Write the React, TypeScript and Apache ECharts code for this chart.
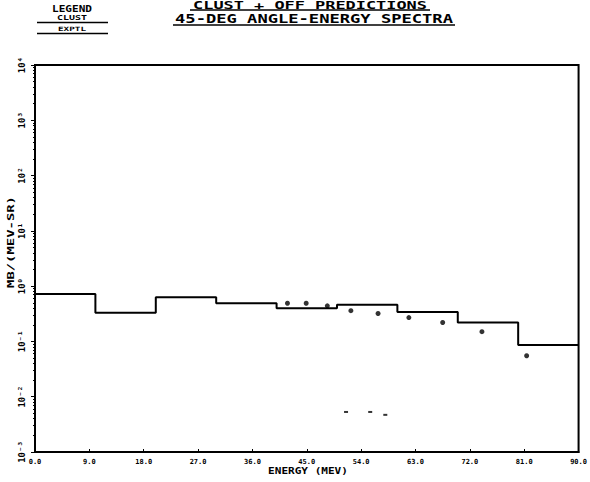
import React, { useEffect, useRef } from "react";
import * as echarts from "echarts";

// Data
const binEdges = [0, 10, 20, 30, 40, 50, 60, 70, 80, 90];
const clustValues = [0.72, 0.33, 0.63, 0.49, 0.4, 0.46, 0.34, 0.22, 0.086];
const exptEnergy = [41.8, 44.9, 48.4, 52.3, 56.8, 61.9, 67.5, 74.0, 81.4];
const exptValues = [0.49, 0.49, 0.44, 0.36, 0.32, 0.27, 0.22, 0.15, 0.055];
const lowEnergy = [51.5, 55.5, 58.0];
const lowValues = [0.0053, 0.0053, 0.0047];
const titleLines = ["CLUST + OFF PREDICTIONS", "45-DEG ANGLE-ENERGY SPECTRA"];
const legendLabels = ["LEGEND", "CLUST", "EXPTL"];
const xAxisName = "ENERGY (MEV)";
const yAxisName = "MB/(MEV-SR)";

const SUP: Record<string, string> = {
  "-": "⁻", "0": "⁰", "1": "¹", "2": "²", "3": "³", "4": "⁴",
  "5": "⁵", "6": "⁶", "7": "⁷", "8": "⁸", "9": "⁹",
};
const sup = (n: number) => String(n).split("").map((c) => SUP[c] ?? c).join("");

const FONT = "'DejaVu Sans Mono', monospace";

export default function App() {
  const ref = useRef<HTMLDivElement>(null);
  useEffect(() => {
    document.body.style.margin = "0";
    const chart = echarts.init(ref.current!, undefined, { renderer: "svg" });
    const histData: [number, number][] = clustValues.map((v, i) => [binEdges[i], v]);
    histData.push([binEdges[binEdges.length - 1], clustValues[clustValues.length - 1]]);
    const exptData = exptEnergy.map((e, i) => [e, exptValues[i]]);
    const lowData = lowEnergy.map((e, i) => [e, lowValues[i]]);

    const stretchedText = (
      text: string, cx: number, y: number, width: number, size: number, rotation = 0,
      vAlign = "top"
    ) => {
      const adv = 0.602 * size * text.length;
      const sx = width / adv;
      return {
        type: "text",
        x: cx,
        y,
        scaleX: sx,
        rotation,
        style: {
          text,
          font: `bold ${size}px ${FONT}`,
          fill: "#000",
          align: "center",
          verticalAlign: vAlign,
        },
        silent: true,
      };
    };

    chart.setOption({
      animation: false,
      backgroundColor: "#fff",
      grid: {
        left: 35,
        right: 10,
        top: 65,
        bottom: 30,
        show: true,
        borderColor: "#000",
        borderWidth: 2,
        backgroundColor: "transparent",
      },
      xAxis: {
        type: "value",
        min: 0,
        max: 90,
        interval: 9,
        axisLine: { show: true, lineStyle: { color: "#000", width: 2 } },
        axisTick: { show: true, inside: true, length: 3, lineStyle: { color: "#000" } },
        splitLine: { show: false },
        axisLabel: {
          formatter: (v: number) => v.toFixed(1),
          fontFamily: FONT,
          fontSize: 7,
          fontWeight: "bold",
          color: "#000",
          margin: 6,
          showMinLabel: true,
          showMaxLabel: true,
        },
      },
      yAxis: {
        type: "log",
        logBase: 10,
        min: 0.001,
        max: 10000,
        axisLine: { show: true, lineStyle: { color: "#000", width: 2 } },
        axisTick: { show: true, length: 4, lineStyle: { color: "#000" } },
        minorTick: { show: true, splitNumber: 9, length: 2, lineStyle: { color: "#000" } },
        splitLine: { show: false },
        axisLabel: {
          rotate: 90,
          formatter: (v: number) => "10" + sup(Math.round(Math.log10(v))),
          fontFamily: FONT,
          fontSize: 9,
          fontWeight: "bold",
          color: "#000",
          margin: 9,
        },
      },
      series: [
        {
          name: "CLUST",
          type: "line",
          step: "end",
          data: histData,
          showSymbol: false,
          symbol: "none",
          lineStyle: { color: "#000", width: 2 },
        },
        {
          name: "EXPTL",
          type: "scatter",
          data: exptData,
          symbol: "circle",
          symbolSize: 5,
          itemStyle: { color: "#000" },
        },
        {
          name: "LOW",
          type: "scatter",
          data: lowData,
          symbol: "rect",
          symbolSize: [4, 2],
          itemStyle: { color: "#000" },
        },
      ],
      graphic: [
        stretchedText(titleLines[0], 310, 0, 234, 11),
        { type: "line", shape: { x1: 190, y1: 10, x2: 430, y2: 10 }, style: { stroke: "#000", lineWidth: 1.5 } },
        stretchedText(titleLines[1], 314, 13, 278, 12),
        { type: "line", shape: { x1: 173, y1: 25, x2: 455, y2: 25 }, style: { stroke: "#000", lineWidth: 1.5 } },
        stretchedText(legendLabels[0], 72, 5, 40, 8),
        stretchedText(legendLabels[1], 72, 14, 30, 7),
        { type: "line", shape: { x1: 37, y1: 22.5, x2: 108, y2: 22.5 }, style: { stroke: "#000", lineWidth: 1.5 } },
        stretchedText(legendLabels[2], 72, 26, 28, 6),
        { type: "line", shape: { x1: 37, y1: 33.5, x2: 108, y2: 33.5 }, style: { stroke: "#000", lineWidth: 1.5 } },
        stretchedText(xAxisName, 308, 467, 80, 8),
        stretchedText(yAxisName, 11, 242, 92, 9, Math.PI / 2, "middle"),
      ],
    });
    return () => chart.dispose();
  }, []);
  return <div ref={ref} style={{ width: 590, height: 482 }} />;
}
